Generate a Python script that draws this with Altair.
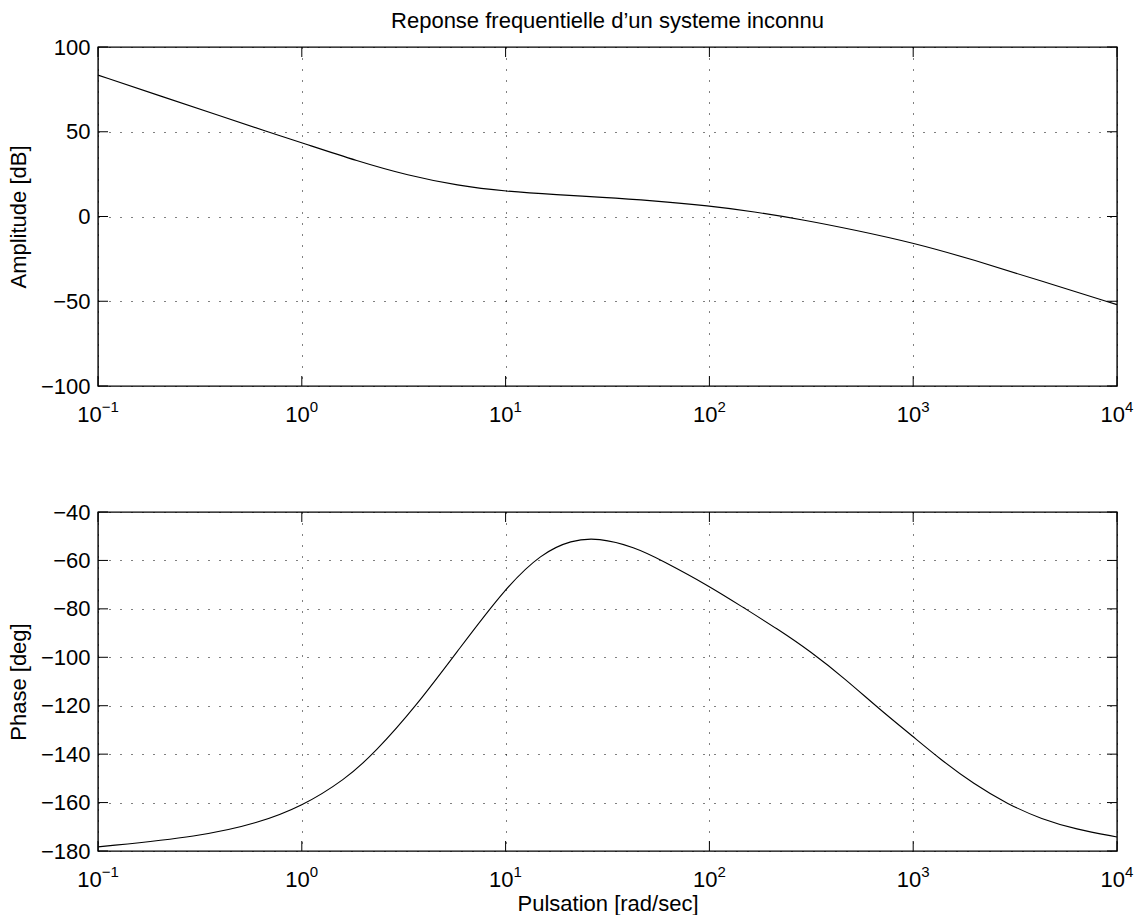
import altair as alt
import pandas as pd

# ---- data ----
amp_w = [0.1, 0.2, 0.4, 0.68, 1, 1.88, 3.31, 5.83, 10, 18.1, 29.4, 52, 100, 164, 292, 519, 1000, 1985, 4275, 10000]
amp_db = [83.4, 71.3, 59.2, 50.0, 43.5, 32.6, 24.2, 18.2, 14.8, 12.8, 11.4, 9.4, 6.3, 2.9, -2.0, -8.0, -15.5, -25.6, -38.2, -52.0]

ph_w = [0.1, 0.32, 0.61, 1, 1.63, 2.28, 3.66, 5.85, 10, 15, 21, 28.5, 43, 58.5, 100, 147, 215, 316, 463, 680,
        1000, 1352, 1985, 2912, 4275, 6270, 10000]
ph_deg = [-178.3, -174.0, -168.5, -161.6, -150.5, -139.5, -119.9, -97.1, -71.2, -57.1, -51.6, -50.6, -54.5,
          -60.0, -70.6, -79.5, -88.2, -97.8, -108.9, -121.3, -132.8, -142.0, -152.4, -160.7, -166.9, -171.0, -174.2]

x_ticks = [0.1, 1, 10, 100, 1000, 10000]
x_base = ["10", "10", "10", "10", "10", "10"]
x_exp = ["\u22121", "0", "1", "2", "3", "4"]
amp_ticks = [-100, -50, 0, 50, 100]
ph_ticks = [-180, -160, -140, -120, -100, -80, -60, -40]

title_text = "Reponse frequentielle d\u2019un systeme inconnu"
amp_title = "Amplitude [dB]"
ph_title = "Phase [deg]"
x_title = "Pulsation [rad/sec]"

# ---- styling ----
W, H = 1019, 339
FONT = "Liberation Sans"
FS = 22
EFS = 15
TL = 10

amp_df = pd.DataFrame({"w": amp_w, "v": amp_db})
ph_df = pd.DataFrame({"w": ph_w, "v": ph_deg})
xt_df = pd.DataFrame({"w": x_ticks, "base": x_base, "exp": x_exp})

xscale = alt.Scale(type="log", domain=[0.1, 10000], nice=False)


def panel(df, yticks, ydom, ytitle, xtitle=None):
    xaxis = alt.Axis(values=x_ticks, grid=True, gridDash=[1, 10], gridColor="black", gridWidth=1,
                     labels=False, ticks=False, domain=False,
                     title=xtitle if xtitle else None,
                     titleFont=FONT, titleFontSize=FS, titleFontWeight="normal", titleColor="black",
                     titleY=59, titleBaseline="alphabetic")
    yaxis = alt.Axis(values=yticks, grid=True, gridDash=[1, 10], gridColor="black", gridWidth=1,
                     ticks=False, domain=False, labelFont=FONT, labelFontSize=FS, labelColor="black",
                     labelPadding=8, title=ytitle, titleFont=FONT, titleFontSize=FS,
                     titleFontWeight="normal", titleColor="black", titlePadding=10)
    yscale = alt.Scale(domain=ydom, nice=False, zero=False)
    xenc = alt.X("w:Q", scale=xscale, axis=xaxis, title=xtitle if xtitle else None)
    yenc = alt.Y("v:Q", scale=yscale, axis=yaxis, title=ytitle)

    line = alt.Chart(df).mark_line(color="black", strokeWidth=1.1, interpolate="basis").encode(
        x=xenc, y=yenc)
    yt_df = pd.DataFrame({"v": yticks})
    xt_bottom = alt.Chart(xt_df).mark_rule(color="black", strokeWidth=1).encode(
        x=xenc, y=alt.value(H), y2=alt.value(H - TL))
    xt_top = alt.Chart(xt_df).mark_rule(color="black", strokeWidth=1).encode(
        x=xenc, y=alt.value(0), y2=alt.value(TL))
    yt_left = alt.Chart(yt_df).mark_rule(color="black", strokeWidth=1).encode(
        y=yenc, x=alt.value(0), x2=alt.value(TL))
    yt_right = alt.Chart(yt_df).mark_rule(color="black", strokeWidth=1).encode(
        y=yenc, x=alt.value(W), x2=alt.value(W - TL))

    base_neg = alt.Chart(xt_df).transform_filter(alt.datum.w < 1).mark_text(
        font=FONT, fontSize=FS, align="right", baseline="alphabetic", dx=3.7, color="black").encode(
        x=xenc, y=alt.value(H + 36), text="base:N")
    exp_neg = alt.Chart(xt_df).transform_filter(alt.datum.w < 1).mark_text(
        font=FONT, fontSize=EFS, align="left", baseline="alphabetic", dx=3.7, color="black").encode(
        x=xenc, y=alt.value(H + 26), text="exp:N")
    base_pos = alt.Chart(xt_df).transform_filter(alt.datum.w >= 1).mark_text(
        font=FONT, fontSize=FS, align="right", baseline="alphabetic", dx=8, color="black").encode(
        x=xenc, y=alt.value(H + 36), text="base:N")
    exp_pos = alt.Chart(xt_df).transform_filter(alt.datum.w >= 1).mark_text(
        font=FONT, fontSize=EFS, align="left", baseline="alphabetic", dx=8, color="black").encode(
        x=xenc, y=alt.value(H + 26), text="exp:N")

    return alt.layer(line, xt_bottom, xt_top, yt_left, yt_right, base_neg, exp_neg, base_pos, exp_pos).properties(
        width=W, height=H)


top = panel(amp_df, amp_ticks, [-100, 100], amp_title).properties(
    title=alt.TitleParams(title_text, font=FONT, fontSize=FS, fontWeight="normal", color="black",
                          anchor="middle", frame="group", offset=3))
bottom = panel(ph_df, ph_ticks, [-180, -40], ph_title, xtitle=x_title)

chart = alt.vconcat(top, bottom, spacing=126, bounds="flush").properties(
    padding={"left": 6, "top": 9, "right": 0, "bottom": 0},
    background="white"
).configure_view(stroke="black", strokeWidth=1.4)

chart.save("out.html", embed_options={"renderer": "svg", "actions": False})
